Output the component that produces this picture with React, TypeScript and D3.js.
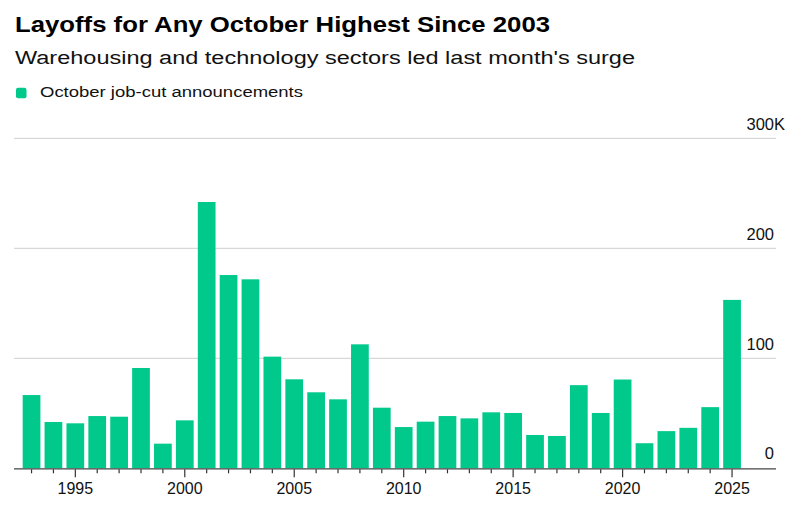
import React, { useRef, useEffect } from "react";
import * as d3 from "d3";

const years = [
  1993, 1994, 1995, 1996, 1997, 1998, 1999, 2000, 2001, 2002, 2003, 2004,
  2005, 2006, 2007, 2008, 2009, 2010, 2011, 2012, 2013, 2014, 2015, 2016,
  2017, 2018, 2019, 2020, 2021, 2022, 2023, 2024, 2025,
];
// thousands of announced job cuts in October
const jobCuts = [
  66.6, 42.1, 40.9, 47.5, 46.9, 91.2, 22.4, 43.6, 242.1, 175.7, 171.8, 101.5,
  80.9, 69.1, 62.7, 112.7, 55.1, 37.5, 42.4, 47.5, 45.4, 50.9, 50.3, 30.3,
  29.4, 75.6, 50.3, 80.7, 22.8, 33.8, 36.8, 55.6, 153.1,
];
const yTicks = [0, 100, 200, 300];
const xLabelYears = [1995, 2000, 2005, 2010, 2015, 2020, 2025];

const title = "Layoffs for Any October Highest Since 2003";
const subtitle = "Warehousing and technology sectors led last month's surge";
const legendLabel = "October job-cut announcements";

const GREEN = "#00c98b";
const FONT = "'Liberation Sans', Arial, Helvetica, sans-serif";

const App: React.FC = () => {
  const svgRef = useRef<SVGSVGElement | null>(null);

  useEffect(() => {
    if (!svgRef.current) return;
    const svg = d3.select(svgRef.current);
    svg.selectAll("*").remove();

    const plotLeft = 14;
    const plotRight = 776;

    const x = d3
      .scaleBand<number>()
      .domain(years)
      .range([20.6, 743])
      .paddingInner(0.19)
      .paddingOuter(0.095);

    const y = d3.scaleLinear().domain([0, 300]).range([468.3, 138.3]);

    // header
    svg
      .append("text")
      .attr("x", 15)
      .attr("y", 32.3)
      .attr("font-family", FONT)
      .attr("font-weight", "bold")
      .attr("font-size", 22.5)
      .attr("fill", "#000")
      .attr("textLength", 535)
      .attr("lengthAdjust", "spacingAndGlyphs")
      .text(title);

    svg
      .append("text")
      .attr("x", 15)
      .attr("y", 64.3)
      .attr("font-family", FONT)
      .attr("font-size", 18)
      .attr("fill", "#111")
      .attr("textLength", 620)
      .attr("lengthAdjust", "spacingAndGlyphs")
      .text(subtitle);

    // legend
    svg
      .append("rect")
      .attr("x", 16)
      .attr("y", 87.7)
      .attr("width", 10.5)
      .attr("height", 10.5)
      .attr("rx", 2)
      .attr("fill", GREEN);

    svg
      .append("text")
      .attr("x", 40)
      .attr("y", 96.7)
      .attr("font-family", FONT)
      .attr("font-size", 15.5)
      .attr("fill", "#111")
      .attr("textLength", 263)
      .attr("lengthAdjust", "spacingAndGlyphs")
      .text(legendLabel);

    // gridlines
    svg
      .append("g")
      .selectAll("line")
      .data(yTicks.filter((t) => t > 0))
      .join("line")
      .attr("x1", plotLeft)
      .attr("x2", plotRight)
      .attr("y1", (d) => y(d))
      .attr("y2", (d) => y(d))
      .attr("stroke", "#cfcfcf")
      .attr("stroke-width", 1);

    // y labels, right aligned with the K hanging off the top one
    const yl = svg.append("g").attr("font-family", FONT).attr("font-size", 16.5);
    yl.selectAll("text.num")
      .data(yTicks)
      .join("text")
      .attr("class", "num")
      .attr("x", 774)
      .attr("y", (d) => (d === 0 ? y(d) - 9 : y(d) - 8))
      .attr("text-anchor", "end")
      .attr("fill", "#111")
      .text((d) => String(d));
    yl.append("text")
      .attr("x", 774)
      .attr("y", y(300) - 8)
      .attr("fill", "#111")
      .text("K");

    // bars
    svg
      .append("g")
      .selectAll("rect")
      .data(years.map((yr, i) => ({ yr, v: jobCuts[i] })))
      .join("rect")
      .attr("x", (d) => x(d.yr) as number)
      .attr("width", x.bandwidth())
      .attr("y", (d) => y(d.v))
      .attr("height", (d) => y(0) - y(d.v))
      .attr("fill", GREEN);

    // axis baseline
    svg
      .append("line")
      .attr("x1", plotLeft)
      .attr("x2", plotRight)
      .attr("y1", y(0) + 0.5)
      .attr("y2", y(0) + 0.5)
      .attr("stroke", "#444")
      .attr("stroke-width", 1.3);

    const half = x.bandwidth() / 2;
    svg
      .append("g")
      .selectAll("line")
      .data(years)
      .join("line")
      .attr("x1", (d) => (x(d) as number) + half)
      .attr("x2", (d) => (x(d) as number) + half)
      .attr("y1", y(0) + 1)
      .attr("y2", (d) => y(0) + (d % 5 === 0 ? 9 : 5))
      .attr("stroke", "#333")
      .attr("stroke-width", 1.2);

    svg
      .append("g")
      .attr("font-family", FONT)
      .attr("font-size", 16)
      .selectAll("text")
      .data(xLabelYears)
      .join("text")
      .attr("x", (d) => (x(d) as number) + half)
      .attr("y", 493.5)
      .attr("text-anchor", "middle")
      .attr("fill", "#111")
      .text((d) => String(d));
  }, []);

  return (
    <svg
      ref={svgRef}
      width={808}
      height={519}
      style={{ position: "absolute", left: 0, top: 0, background: "#fff" }}
    />
  );
};

export default App;
